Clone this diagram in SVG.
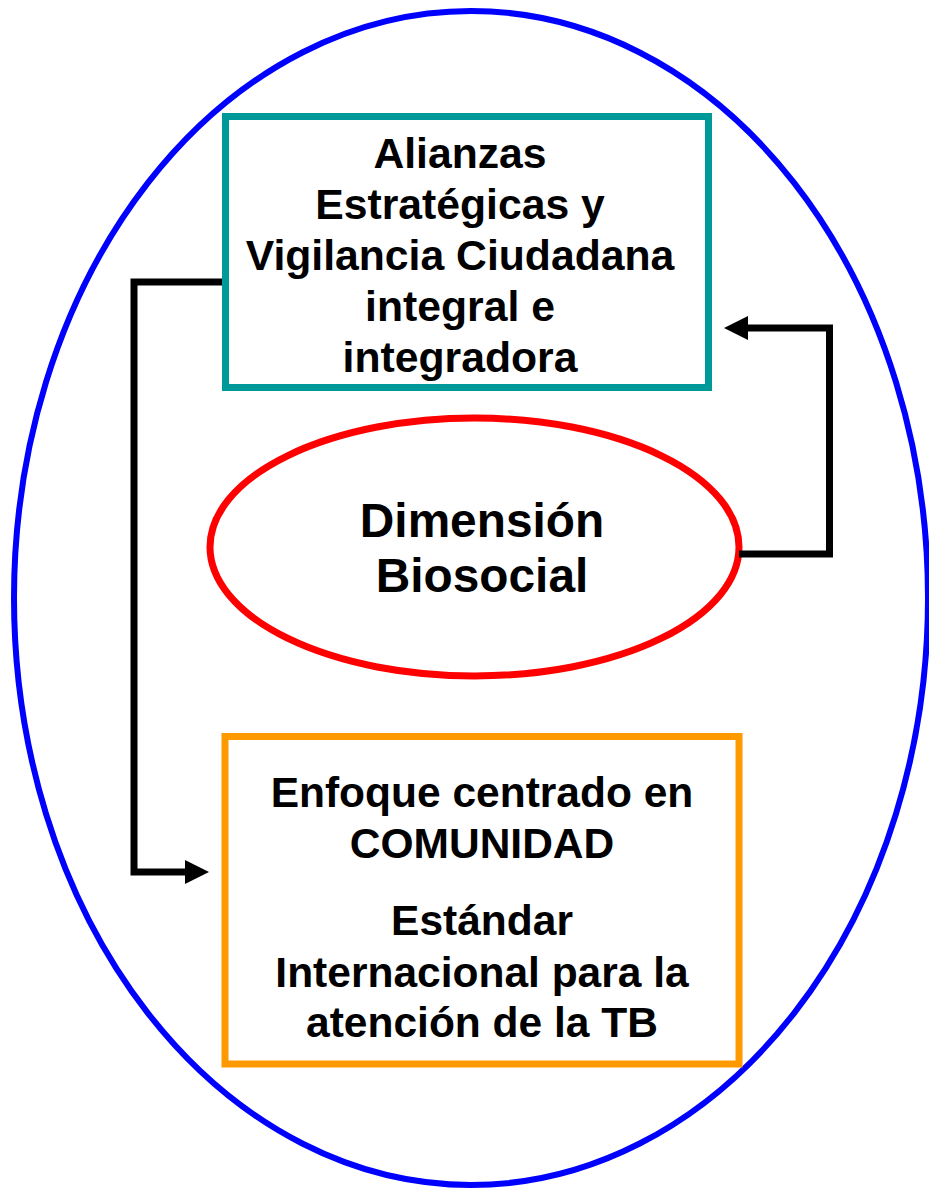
<svg xmlns="http://www.w3.org/2000/svg" width="929" height="1190" viewBox="0 0 929 1190">
<style>
.t{font-family:"Liberation Sans",Arial,sans-serif;font-weight:bold;fill:#000;text-anchor:middle}
.box{fill:#fff;stroke-width:7}
.conn{fill:none;stroke:#000;stroke-width:7;stroke-linejoin:miter}
</style>
<defs>
<marker id="ah" markerUnits="userSpaceOnUse" markerWidth="24" markerHeight="24" refX="4" refY="12" orient="auto">
<path d="M0,0 L24,12 L0,24 Z" fill="#000"/>
</marker>
</defs>
<rect width="929" height="1190" fill="#fff"/>
<g id="outer">
<ellipse cx="471" cy="598" rx="457" ry="587" fill="none" stroke="#0000FF" stroke-width="6"/>
</g>
<g id="alianzas">
<rect class="box" x="225.5" y="116.5" width="483" height="271" stroke="#009999"/>
<text class="t" font-size="42.7" x="460" y="168">Alianzas</text>
<text class="t" font-size="42.7" x="460" y="219">Estratégicas y</text>
<text class="t" font-size="42.7" x="460" y="270">Vigilancia Ciudadana</text>
<text class="t" font-size="42.7" x="460" y="321">integral e</text>
<text class="t" font-size="42.7" x="460" y="372">integradora</text>
</g>
<g id="biosocial">
<ellipse cx="474.5" cy="547" rx="264.5" ry="129" fill="#fff" stroke="#FF0000" stroke-width="7"/>
<text class="t" font-size="47.8" x="482" y="537">Dimensión</text>
<text class="t" font-size="47.8" x="482" y="592">Biosocial</text>
</g>
<g id="comunidad">
<rect class="box" x="225" y="736.5" width="514" height="327.5" stroke="#FF9900"/>
<text class="t" font-size="42.5" x="482" y="807">Enfoque centrado en</text>
<text class="t" font-size="42.5" x="482" y="858">COMUNIDAD</text>
<text class="t" font-size="42.5" x="482" y="935">Estándar</text>
<text class="t" font-size="42.5" x="482" y="987">Internacional para la</text>
<text class="t" font-size="42.5" x="482" y="1037">atención de la TB</text>
</g>
<g id="connectors">
<path class="conn" d="M222,282 H134 V872 H189" marker-end="url(#ah)"/>
<path class="conn" d="M739,554 H829.5 V328 H744" marker-end="url(#ah)"/>
</g>
</svg>
